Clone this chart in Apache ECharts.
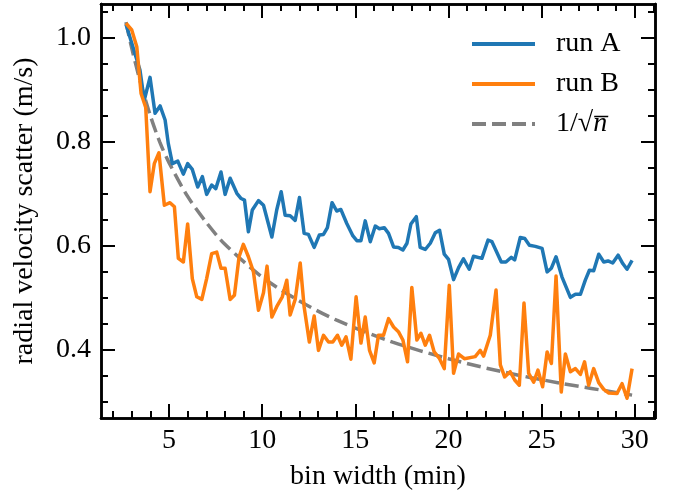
<!DOCTYPE html>
<html>
<head>
<meta charset="utf-8">
<script src="https://cdn.jsdelivr.net/npm/echarts@6/dist/echarts.min.js"></script>
<style>
html, body { margin: 0; padding: 0; background: #fff; }
#chart { width: 676px; height: 500px; }
</style>
</head>
<body>
<div id="chart"></div>
<script>
// values (bin width in min, scatter in m/s)
var runAx = [2.69, 3.17, 3.44, 3.67, 3.98, 4.25, 4.52, 4.79, 4.96, 5.18, 5.47, 5.77, 6.0, 6.25, 6.54, 6.79, 7.02, 7.29, 7.51, 7.79,
    8.01, 8.28, 8.64, 8.87, 9.05, 9.26, 9.47, 9.8, 10.07, 10.52, 10.78, 11.02, 11.23, 11.5, 11.77, 12.0, 12.25, 12.48, 12.79, 13.07,
    13.29, 13.5, 13.75, 14.0, 14.22, 14.54, 14.87, 15.08, 15.3, 15.53, 15.8, 16.07, 16.29, 16.55, 16.78, 17.05, 17.31, 17.55, 17.77, 17.98,
    18.27, 18.48, 18.75, 19.02, 19.29, 19.52, 19.77, 20.0, 20.27, 20.54, 20.8, 21.11, 21.34, 21.79, 22.12, 22.33, 22.83, 23.08, 23.37, 23.55,
    23.85, 24.09, 24.34, 24.66, 25.02, 25.29, 25.52, 25.77, 26.09, 26.54, 26.81, 27.08, 27.34, 27.56, 27.79, 28.06, 28.33, 28.56, 28.81, 29.1,
    29.35, 29.58, 29.85];
var runAy = [1.026, 0.970, 0.938, 0.880, 0.924, 0.855, 0.869, 0.842, 0.797, 0.758, 0.763, 0.738, 0.758, 0.747, 0.713, 0.733, 0.699, 0.717, 0.710, 0.742,
    0.699, 0.730, 0.701, 0.691, 0.688, 0.627, 0.669, 0.687, 0.678, 0.617, 0.669, 0.704, 0.659, 0.658, 0.649, 0.693, 0.624, 0.622, 0.597, 0.621,
    0.622, 0.635, 0.683, 0.667, 0.670, 0.643, 0.619, 0.610, 0.610, 0.648, 0.608, 0.638, 0.633, 0.635, 0.624, 0.598, 0.597, 0.592, 0.605, 0.642,
    0.656, 0.597, 0.593, 0.605, 0.625, 0.630, 0.584, 0.574, 0.535, 0.558, 0.575, 0.555, 0.580, 0.576, 0.611, 0.608, 0.569, 0.569, 0.578, 0.573,
    0.616, 0.614, 0.601, 0.599, 0.595, 0.550, 0.557, 0.579, 0.540, 0.501, 0.507, 0.507, 0.534, 0.553, 0.552, 0.584, 0.569, 0.571, 0.567, 0.582,
    0.566, 0.555, 0.572];

var runBx = [2.69, 3.0, 3.27, 3.5, 3.75, 3.98, 4.21, 4.46, 4.75, 5.05, 5.29, 5.5, 5.77, 6.0, 6.25, 6.49, 6.76, 7.02, 7.29, 7.56,
    7.79, 8.01, 8.28, 8.51, 8.76, 8.99, 9.26, 9.53, 9.8, 10.07, 10.26, 10.52, 10.78, 11.08, 11.32, 11.5, 11.77, 12.04, 12.25, 12.53,
    12.79, 13.02, 13.29, 13.56, 13.79, 14.04, 14.27, 14.5, 14.76, 15.04, 15.3, 15.53, 15.76, 16.01, 16.24, 16.51, 16.78, 17.05, 17.31, 17.55,
    17.8, 18.03, 18.3, 18.52, 18.75, 18.98, 19.23, 19.52, 19.77, 20.04, 20.27, 20.54, 20.85, 21.43, 21.7, 21.88, 22.24, 22.55, 22.78, 23.01,
    23.31, 23.55, 23.8, 24.05, 24.3, 24.57, 24.8, 25.05, 25.29, 25.52, 25.77, 26.05, 26.27, 26.54, 26.81, 27.08, 27.3, 27.52, 27.79, 28.06,
    28.33, 28.6, 29.04, 29.31, 29.58, 29.85];
var runBy = [1.028, 1.015, 0.983, 0.893, 0.866, 0.704, 0.758, 0.779, 0.678, 0.683, 0.675, 0.576, 0.569, 0.642, 0.537, 0.502, 0.497, 0.537, 0.585, 0.588,
    0.557, 0.557, 0.497, 0.505, 0.579, 0.603, 0.579, 0.550, 0.476, 0.510, 0.561, 0.463, 0.483, 0.502, 0.534, 0.467, 0.497, 0.567, 0.483, 0.415,
    0.465, 0.399, 0.428, 0.415, 0.415, 0.428, 0.409, 0.425, 0.382, 0.502, 0.413, 0.463, 0.399, 0.375, 0.428, 0.428, 0.460, 0.444, 0.435, 0.419,
    0.377, 0.520, 0.419, 0.432, 0.409, 0.428, 0.396, 0.383, 0.364, 0.524, 0.355, 0.392, 0.383, 0.387, 0.399, 0.388, 0.428, 0.515, 0.371, 0.348,
    0.358, 0.342, 0.332, 0.490, 0.355, 0.338, 0.361, 0.329, 0.396, 0.374, 0.542, 0.319, 0.392, 0.358, 0.364, 0.353, 0.377, 0.332, 0.364, 0.337,
    0.324, 0.317, 0.316, 0.335, 0.307, 0.364];

// reference 1/sqrt(n) curve, read at a few bin widths
var refX = [2.69, 3.0, 3.5, 4.0, 4.5, 5.0, 6.0, 7.0, 8.0, 10.0, 12.0, 14.0, 17.0, 20.0, 23.0, 26.0, 29.85];
var refY = [1.03, 0.98, 0.91, 0.85, 0.80, 0.76, 0.695, 0.645, 0.603, 0.54, 0.494, 0.457, 0.415, 0.383, 0.357, 0.336, 0.313];

var xMajor = [5, 10, 15, 20, 25, 30];
var xMinor = [2, 3, 4, 6, 7, 8, 9, 11, 12, 13, 14, 16, 17, 18, 19, 21, 22, 23, 24, 26, 27, 28, 29, 31];
var yMajor = [0.4, 0.6, 0.8, 1.0];
var yMinor = [0.3, 0.35, 0.45, 0.5, 0.55, 0.65, 0.7, 0.75, 0.85, 0.9, 0.95, 1.05];

var X_MIN = 1.35, X_MAX = 31.08, Y_MIN = 0.269, Y_MAX = 1.065;
var FONT = 'Liberation Serif';
var FS = 28;

function pairs(xs, ys) {
    var out = [];
    for (var i = 0; i < xs.length; i++) out.push([xs[i], ys[i]]);
    return out;
}

function makeAxis(kind, pos, ticks, len, labels) {
    var a = {
        type: 'value',
        position: pos,
        min: kind === 'x' ? X_MIN : Y_MIN,
        max: kind === 'x' ? X_MAX : Y_MAX,
        splitLine: { show: false },
        axisLine: { show: true, onZero: false, lineStyle: { color: '#000', width: 2.5 } },
        axisTick: { show: true, inside: true, length: len, customValues: ticks, lineStyle: { color: '#000', width: 2 } },
        axisLabel: { show: false }
    };
    if (labels) {
        a.axisLabel = {
            show: true,
            customValues: ticks,
            margin: kind === 'x' ? 9 : 10,
            color: '#000',
            fontFamily: FONT,
            fontSize: FS,
            formatter: function (v) { return kind === 'x' ? String(Math.round(v)) : v.toFixed(1); }
        };
    }
    return a;
}

var xAxes = [
    makeAxis('x', 'bottom', xMajor, 14, true),
    makeAxis('x', 'bottom', xMinor, 7, false),
    makeAxis('x', 'top', xMajor, 14, false),
    makeAxis('x', 'top', xMinor, 7, false)
];
xAxes[0].name = 'bin width (min)';
xAxes[0].nameLocation = 'middle';
xAxes[0].nameGap = 45;
xAxes[0].nameTextStyle = { color: '#000', fontFamily: FONT, fontSize: FS };

var yAxes = [
    makeAxis('y', 'left', yMajor, 14, true),
    makeAxis('y', 'left', yMinor, 7, false),
    makeAxis('y', 'right', yMajor, 14, false),
    makeAxis('y', 'right', yMinor, 7, false)
];
yAxes[0].name = 'radial velocity scatter (m/s)';
yAxes[0].nameLocation = 'middle';
yAxes[0].nameGap = 62;
yAxes[0].nameTextStyle = { color: '#000', fontFamily: FONT, fontSize: FS };

var chart = echarts.init(document.getElementById('chart'), null, { renderer: 'canvas' });

chart.setOption({
    animation: false,
    backgroundColor: '#fff',
    grid: { left: 101, right: 21, top: 4, bottom: 82 },
    xAxis: xAxes,
    yAxis: yAxes,
    legend: {
        orient: 'vertical',
        left: 465,
        top: 25,
        itemWidth: 63,
        itemHeight: 14,
        itemGap: 12,
        itemStyle: { opacity: 0 },
        lineStyle: { width: 4 },
        textStyle: {
            color: '#000', fontFamily: FONT, fontSize: FS, padding: [0, 0, 0, 16],
            rich: { it: { fontFamily: FONT, fontSize: FS, fontStyle: 'italic', color: '#000' } }
        },
        formatter: function (name) {
            if (name === '1/sqrt') return '1/\u221A{it|n\u0305}';
            return name;
        },
        data: ['run A', 'run B', '1/sqrt']
    },
    series: [
        {
            name: 'run A', type: 'line', data: pairs(runAx, runAy),
            symbol: 'none', showSymbol: false,
            lineStyle: { color: '#1f77b4', width: 3.5, join: 'round' },
            itemStyle: { color: '#1f77b4' }
        },
        {
            name: 'run B', type: 'line', data: pairs(runBx, runBy),
            symbol: 'none', showSymbol: false,
            lineStyle: { color: '#ff7f0e', width: 3.5, join: 'round' },
            itemStyle: { color: '#ff7f0e' }
        },
        {
            name: '1/sqrt', type: 'line', data: pairs(refX, refY), smooth: 0.3,
            symbol: 'none', showSymbol: false, z: 1,
            lineStyle: { color: '#808080', width: 3.5, type: [14, 6] },
            itemStyle: { color: '#808080' }
        }
    ]
});
</script>
</body>
</html>
